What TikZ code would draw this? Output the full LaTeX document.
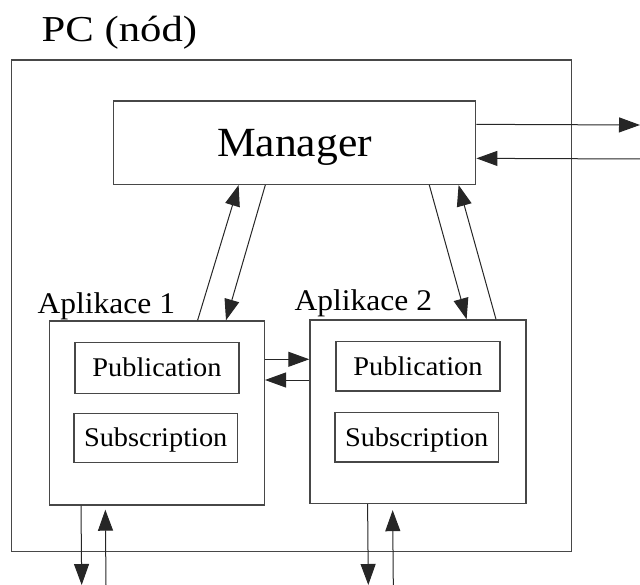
\documentclass[tikz,border=0pt]{standalone}
\usepackage{fontspec}
\setmainfont{Liberation Serif}[FakeStretch=1.05]
\newfontfamily\titlefont{Liberation Serif}[FakeStretch=1.17]
\usetikzlibrary{arrows.meta}

\begin{document}
\begin{tikzpicture}[x=1pt,y=-1pt,
  box/.style={draw=black!72, line width=1.4pt, inner sep=0pt, text depth=0pt},
  conn/.style={draw=black!85, line width=1pt, -{Triangle[length=21pt,width=15pt]}},
  lbl/.style={inner sep=0pt, anchor=base west},
  big/.style={font=\fontsize{41.5}{48}\selectfont, text height=27.5pt},
  part/.style={box, font=\fontsize{27}{32}\selectfont, text height=17.9pt}]
\useasboundingbox (0,0) rectangle (640,585);

% whole computer
\node[box, minimum width=560.3pt, minimum height=491.7pt] (pc) at (291.55,305.85) {};
\node[lbl, font=\titlefont\fontsize{36.5}{44}\selectfont] (title) at (41.5,41.7) {PC (nód)};

% manager
\node[box, big, minimum width=362.4pt, minimum height=83.3pt] (mgr) at (294.5,142.7) {Manager};

% applications
\node[box, minimum width=215pt, minimum height=184pt] (app1) at (156.8,413) {};
\node[box, minimum width=216pt, minimum height=183.5pt] (app2) at (418,411.75) {};
\node[lbl, font=\fontsize{30}{36}\selectfont] (lab1) at (37.5,313.5) {Aplikace 1};
\node[lbl, font=\fontsize{30}{36}\selectfont] (lab2) at (294.5,311) {Aplikace 2};

\node[part, minimum width=164pt, minimum height=50.6pt] (pub1) at (157,368) {Publication};
\node[part, minimum width=163.3pt, minimum height=49.4pt] (sub1) at (155.7,438) {Subscription};
\node[part, minimum width=164pt, minimum height=49.3pt] (pub2) at (418,366.3) {Publication};
\node[part, minimum width=163.3pt, minimum height=49.7pt] (sub2) at (416.7,437.2) {Subscription};

% free ends outside the computer
\coordinate (netout) at (640,125);
\coordinate (netin) at (640,159);
\coordinate (d1) at (81.7,585);
\coordinate (u1) at (106,585);
\coordinate (d2) at (368.3,585);
\coordinate (u2) at (393.3,585);

% manager <-> network
\draw[conn] ([yshift=-24pt]mgr.north east) -- (netout);
\draw[conn] (netin) -- ([yshift=-58pt]mgr.north east);

% manager <-> applications
\draw[conn] ([xshift=149pt]app1.north west) -- ([xshift=126pt]mgr.south west);
\draw[conn] ([xshift=152.7pt]mgr.south west) -- ([xshift=177.4pt]app1.north west);
\draw[conn] ([xshift=316.7pt]mgr.south west) -- ([xshift=157.3pt]app2.north west);
\draw[conn] ([xshift=186.7pt]app2.north west) -- ([xshift=346pt]mgr.south west);

% application <-> application
\draw[conn] ([yshift=-39pt]app1.north east) -- ([yshift=-40pt]app2.north west);
\draw[conn] ([yshift=-60.7pt]app2.north west) -- ([yshift=-59.7pt]app1.north east);

% applications <-> outside
\draw[conn] ([xshift=32.4pt]app1.south west) -- (d1);
\draw[conn, shorten >=4pt] (u1) -- ([xshift=56.7pt]app1.south west);
\draw[conn] ([xshift=58.3pt]app2.south west) -- (d2);
\draw[conn, shorten >=6pt] (u2) -- ([xshift=83.3pt]app2.south west);
\end{tikzpicture}
\end{document}
